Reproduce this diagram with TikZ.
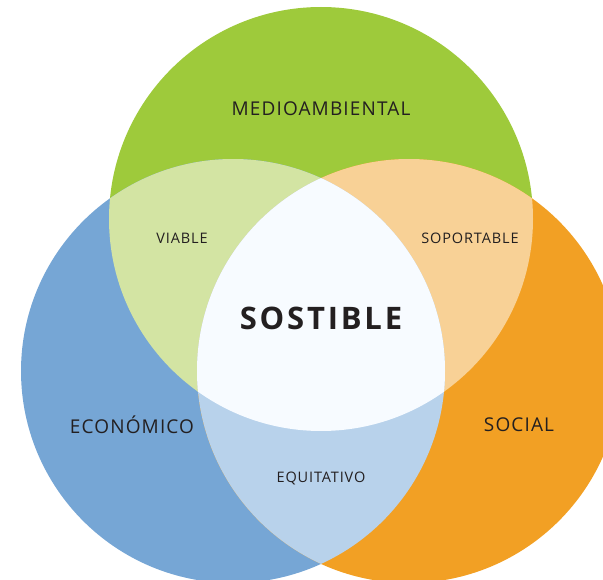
\documentclass[tikz,border=0pt]{standalone}
\usepackage{fontspec}
\setmainfont{Open Sans}
\newfontfamily\vennfont[LetterSpace=6]{Open Sans}
\newfontfamily\coresfont[LetterSpace=9]{Open Sans}

\definecolor{envgreen}{HTML}{9ECA3B}
\definecolor{ecoblue}{HTML}{76A6D5}
\definecolor{socorange}{HTML}{F2A024}
\definecolor{viablegreen}{HTML}{D3E4A3}
\definecolor{soportorange}{HTML}{F8D196}
\definecolor{equiblue}{HTML}{B8D2EB}
\definecolor{corewhite}{HTML}{F7FBFF}
\definecolor{textgray}{HTML}{231F20}

\tikzset{
  ring/.style={radius=212pt},
  bigtag/.style={font=\vennfont\fontsize{19}{21}\selectfont, text=textgray},
  smalltag/.style={font=\vennfont\fontsize{14.5}{16}\selectfont, text=textgray},
  coretag/.style={font=\coresfont\bfseries\fontsize{31}{34}\selectfont, text=textgray},
}

\begin{document}
\begin{tikzpicture}[x=1pt,y=-1pt]
\useasboundingbox (0,0) rectangle (603,580);
% circle centres
\coordinate (env) at (321,219);
\coordinate (eco) at (233,371);
\coordinate (soc) at (409,371);

% three base circles
\fill[envgreen] (env) circle[ring];
\fill[ecoblue] (eco) circle[ring];
\fill[socorange] (soc) circle[ring];

% two-way overlaps
\begin{scope}
  \clip (env) circle[ring];
  \fill[viablegreen] (eco) circle[ring];
  \fill[soportorange] (soc) circle[ring];
\end{scope}
\begin{scope}
  \clip (eco) circle[ring];
  \fill[equiblue] (soc) circle[ring];
\end{scope}

% centre, all three
\begin{scope}
  \clip (env) circle[ring];
  \clip (eco) circle[ring];
  \fill[corewhite] (soc) circle[ring];
\end{scope}

% labels
\node[bigtag] (medio) at (321,109) {MEDIOAMBIENTAL};
\node[bigtag] (econ) at (132,425) {ECONÓMICO};
\node[bigtag] (social) at (519,425) {SOCIAL};
\node[smalltag] (viable) at (182,238) {VIABLE};
\node[smalltag] (soport) at (470,238) {SOPORTABLE};
\node[smalltag] (equit) at (321,478) {EQUITATIVO};
\node[coretag] (sost) at (321,318) {SOSTIBLE};
\end{tikzpicture}
\end{document}
